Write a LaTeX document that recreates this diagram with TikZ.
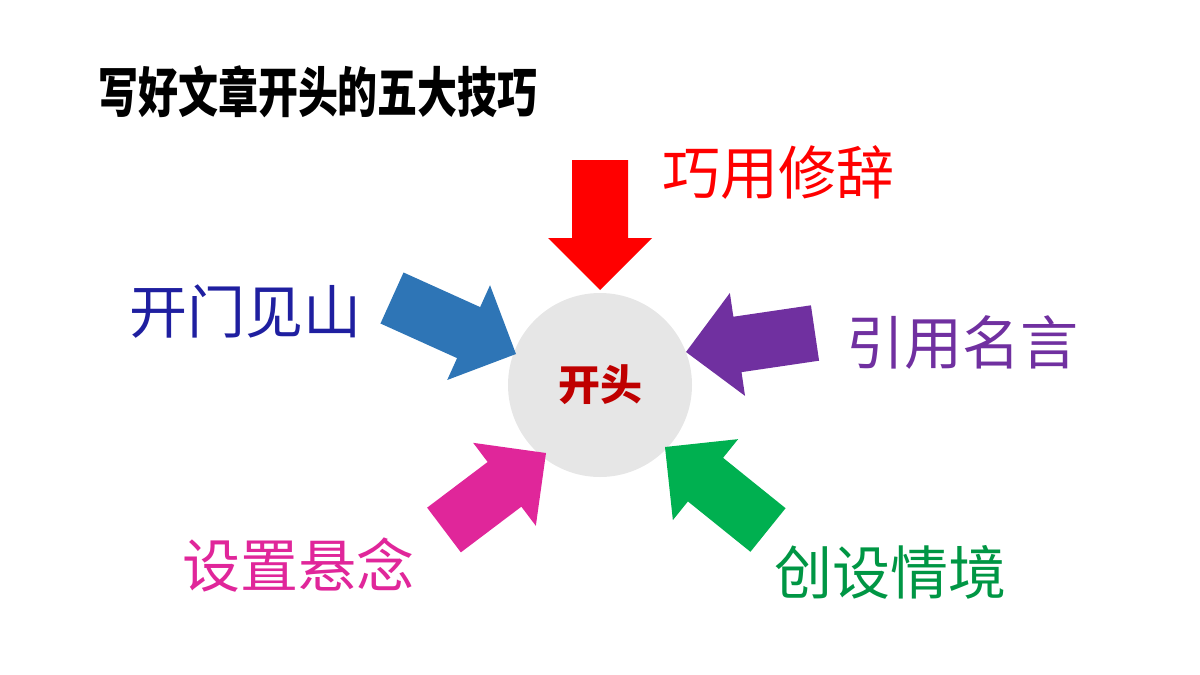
\documentclass[tikz,border=0pt]{standalone}
\usepackage{fontspec}
\newfontfamily\cjk{Noto Sans CJK SC}
\usetikzlibrary{calc}
\definecolor{cred}{HTML}{FF0000}
\definecolor{cblue}{HTML}{2E75B6}
\definecolor{cbluet}{HTML}{1F1FA0}
\definecolor{cpurp}{HTML}{7030A0}
\definecolor{cpink}{HTML}{E0269A}
\definecolor{cgreen}{HTML}{00B050}
\definecolor{cgray}{HTML}{E6E6E6}
\newcommand{\blockarrow}[3]{%
  \coordinate (nk) at ($(#2)!52pt!(#1)$);
  \fill[#3] ($(#1)!28pt!90:(#2)$) -- ($(nk)!28pt!-90:(#1)$) -- ($(nk)!52pt!-90:(#1)$) -- (#2)
   -- ($(nk)!52pt!90:(#1)$) -- ($(nk)!28pt!90:(#1)$) -- ($(#1)!28pt!-90:(#2)$) -- cycle;}
\tikzset{lab/.style={font=\cjk\fontsize{58}{58}\selectfont, inner sep=0pt}}
\begin{document}
\begin{tikzpicture}[x=1pt,y=-1pt]
\useasboundingbox (0,0) rectangle (1200,675);
\node[circle, fill=cgray, minimum size=184pt, inner sep=0pt] (c) at (600,385) {};
\node[font=\cjk\bfseries\fontsize{42}{42}\selectfont, text=red!75!black] (ct) at (600,385) {开头};
\node[font=\cjk\bfseries\fontsize{54}{54}\selectfont, xscale=0.74, inner sep=0pt] (title) at (318,92) {写好文章开头的五大技巧};
\coordinate (t1) at (600,160); \coordinate (p1) at (600,290);
\coordinate (t2) at (392,298); \coordinate (p2) at (516,354);
\coordinate (t3) at (815,333); \coordinate (p3) at (686,352);
\coordinate (t4) at (444,530); \coordinate (p4) at (546,453);
\coordinate (t5) at (768,530); \coordinate (p5) at (665,447);
\blockarrow{t1}{p1}{cred}
\blockarrow{t2}{p2}{cblue}
\blockarrow{t3}{p3}{cpurp}
\blockarrow{t4}{p4}{cpink}
\blockarrow{t5}{p5}{cgreen}
\node[lab, text=cred] (l1) at (778,172) {巧用修辞};
\node[lab, text=cbluet] (l2) at (245,312) {开门见山};
\node[lab, text=cpurp] (l3) at (962,343) {引用名言};
\node[lab, text=cpink] (l4) at (298,565) {设置悬念};
\node[lab, text=cgreen!85!black] (l5) at (890,572) {创设情境};
\end{tikzpicture}
\end{document}
